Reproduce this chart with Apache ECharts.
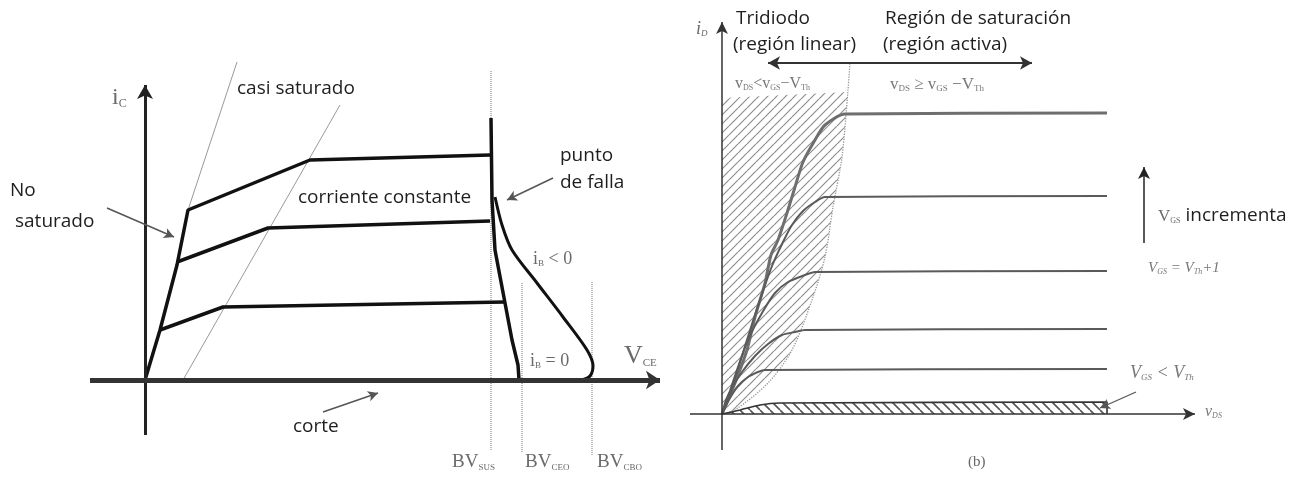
<!DOCTYPE html>
<html><head><meta charset="utf-8">
<script src="https://cdn.jsdelivr.net/npm/echarts/dist/echarts.min.js"></script>
<style>html,body{margin:0;background:#fff}#c{width:1306px;height:477px}</style>
</head><body><div id="c"></div>
<script>
// ---------- Panel (a): BJT i_C vs V_CE (panel units, origin at axes crossing) ----------
const bjtTop      = [[0,0],[15,50],[32,115],[43,170],[165,220],[345,225]];
const bjtMid      = [[32,118],[123,152],[345,159]];
const bjtBot      = [[15,50],[78,73],[360,78]];
const bjtIb0      = [[346,262],[347,180],[350,130],[367,40],[373,15],[374,0]];
const bjtIbNeg    = [[350,183],[357,155],[367,130],[392,97],[418,63],[442,30],[448,14],[445,4],[437,0]];
const bjtGuide1   = [[43,170],[92,318]];
const bjtGuide2   = [[38,0],[195,275]];
const bjtBVsus    = [[346,-70],[346,310]];
const bjtBVceo    = [[377,-72],[377,98]];
const bjtBVcbo    = [[447,-75],[447,98]];

// ---------- Panel (b): MOSFET i_D vs v_DS ----------
const mosCurve1   = [[0,0],[6,14],[13,31],[25,64],[33,97],[43,131],[49,159],[56,174],[65,201],[73,227],[81,252],[93,274],[103,289],[123,300],[385,301]];
const mosCurve2   = [[0,0],[10,26],[20,58],[30,90],[40,120],[50,148],[61,172],[70,189],[81,203],[93,212],[103,217],[385,218]];
const mosCurve3   = [[0,0],[8,23],[16,47],[26,74],[40,101],[53,121],[66,132],[83,139],[93,142],[385,143]];
const mosCurve4   = [[0,0],[4,14],[10,26],[20,42],[33,58],[46,70],[60,79],[73,82],[83,84],[385,85]];
const mosCurve5   = [[0,0],[8,16],[16,28],[26,37],[36,42],[43,44],[385,45]];
const mosCutoff   = [[0,0],[18,4],[38,9],[58,11],[385,12],[385,0]];
const mosPinch    = [[0,0],[13,4],[46,31],[70,64],[90,114],[103,157],[111,207],[120,257],[126,324],[128,352]];
const mosTriode   = [[0,0],[0,316],[126,322],[120,257],[111,207],[103,157],[90,114],[70,64],[46,31],[13,4]];

// arrows [from, to]
const arrowsA = {
  yAxis: [[0,-55],[0,295]],
  xAxis: [[-55,0],[515,0]],
  noSat: [[-38,172],[29,143]],
  falla: [[408,202],[362,180]],
  corte: [[178,-32],[233,-13]]
};
const arrowsB = {
  yAxis: [[0,-36],[0,392]],
  xAxis: [[-32,0],[473,0]],
  triode: [[126,351],[46,351]],
  sat: [[126,351],[310,351]],
  vgs: [[422,171],[422,247]],
  off: [[414,22],[378,6]]
};

function hatch(size, color, width, dir){
  const c = document.createElement('canvas'); c.width = c.height = size;
  const g = c.getContext('2d'); g.strokeStyle = color; g.lineWidth = width; g.beginPath();
  for (let k=-1;k<=1;k++){
    if (dir>0){ g.moveTo(k*size, size); g.lineTo(k*size+size, 0); }
    else { g.moveTo(k*size, 0); g.lineTo(k*size+size, size); }
  }
  g.stroke(); return c;
}
const chart = echarts.init(document.getElementById('c'), null, {renderer:'canvas'});

function ln(idx, data, color, width, opts){
  return Object.assign({type:'line', xAxisIndex:idx, yAxisIndex:idx, data:data, showSymbol:false, symbol:'none',
    silent:true, lineStyle:{color:color, width:width}, z:3}, opts||{});
}
function arrow(idx, seg, color, width, size, extra){
  return {type:'line', xAxisIndex:idx, yAxisIndex:idx, data:[], silent:true,
    markLine:{silent:true, animation:false, symbol:['none','arrow'], symbolSize:size, label:{show:false},
      lineStyle:Object.assign({color:color, width:width, type:'solid'}, extra||{}),
      emphasis:{disabled:true},
      data:[[{coord:seg[0]},{coord:seg[1]}]]}};
}
function poly(idx, pts, fill, z){
  return {type:'custom', xAxisIndex:idx, yAxisIndex:idx, data:[pts[0]], silent:true, z:z||1,
    renderItem:(p, api)=>({type:'polygon', shape:{points:pts.map(q=>api.coord(q))}, style:{fill:fill}})};
}

const SANS = '"Open Sans", sans-serif';
const SERIF = '"Liberation Serif", serif';
const ink = '#1e1e1e', gray = '#6a6a6a';
function T(left, top, text, size){ return {type:'text', left:left, top:top, silent:true,
  style:{text:text, font:(size||19)+'px '+SANS, fill:ink}}; }
function R(left, top, text, big, small, color, italic){
  return {type:'text', left:left, top:top, silent:true, style:{text:text, fill:color||gray,
    rich:{m:{fontSize:big, fontFamily:SERIF, fill:color||gray, fontStyle:italic?'italic':'normal', verticalAlign:'bottom'},
          s:{fontSize:small, fontFamily:SERIF, fill:color||gray, fontStyle:italic?'italic':'normal', verticalAlign:'bottom'},
          t:{fontSize:19, fontFamily:SANS, fill:ink, verticalAlign:'bottom'}}}};
}

const hatchL = {image:hatch(9,'#8e8e8e',1.2,1), repeat:'repeat'};
const hatchR = {image:hatch(10,'#555',1.6,-1), repeat:'repeat'};

const option = {
  animation:false,
  grid:[{left:0, top:0, width:660, height:477}, {left:660, top:0, width:646, height:477}],
  xAxis:[{type:'value', gridIndex:0, min:-145, max:515, show:false},
         {type:'value', gridIndex:1, min:-62, max:584, show:false}],
  yAxis:[{type:'value', gridIndex:0, min:-97, max:380, show:false},
         {type:'value', gridIndex:1, min:-63, max:414, show:false}],
  series:[
    // panel a
    ln(0, bjtGuide1, '#999', 1),
    ln(0, bjtGuide2, '#999', 1),
    ln(0, bjtBVsus, '#777', 1, {lineStyle:{color:'#777', width:1, type:'dotted'}}),
    ln(0, bjtBVceo, '#777', 1, {lineStyle:{color:'#777', width:1, type:'dotted'}}),
    ln(0, bjtBVcbo, '#777', 1, {lineStyle:{color:'#777', width:1, type:'dotted'}}),
    arrow(0, arrowsA.yAxis, '#222', 3, [12,14]),
    arrow(0, arrowsA.xAxis, '#333', 5, [14,14]),
    ln(0, bjtTop, '#111', 3.5),
    ln(0, bjtMid, '#111', 3.5),
    ln(0, bjtBot, '#111', 3.5),
    ln(0, bjtIb0, '#111', 3.5),
    ln(0, bjtIbNeg, '#111', 3, {smooth:0.3}),
    arrow(0, arrowsA.noSat, '#555', 1.5, [8,10]),
    arrow(0, arrowsA.falla, '#555', 1.5, [8,10]),
    arrow(0, arrowsA.corte, '#555', 1.5, [8,10]),
    // panel b
    poly(1, mosTriode, hatchL, 1),
    poly(1, mosCutoff, hatchR, 2),
    ln(1, mosPinch, '#999', 1.3, {smooth:0.3, lineStyle:{color:'#999', width:1.3, type:'dotted'}}),
    ln(1, mosCurve1, '#6e6e6e', 3, {smooth:0.25}),
    ln(1, mosCurve2, '#5a5a5a', 2, {smooth:0.25}),
    ln(1, mosCurve3, '#5a5a5a', 2, {smooth:0.25}),
    ln(1, mosCurve4, '#5a5a5a', 2, {smooth:0.25}),
    ln(1, mosCurve5, '#5a5a5a', 2, {smooth:0.25}),
    ln(1, mosCutoff, '#333', 1.6, {smooth:0.2}),
    arrow(1, arrowsB.yAxis, '#333', 1.5, [9,12]),
    arrow(1, arrowsB.xAxis, '#333', 1.5, [9,12]),
    arrow(1, arrowsB.triode, '#333', 2, [10,12]),
    arrow(1, arrowsB.sat, '#333', 2, [10,12]),
    arrow(1, arrowsB.vgs, '#222', 1.5, [9,12]),
    arrow(1, arrowsB.off, '#555', 1.3, [8,10], {curveness:-0.5})
  ],
  graphic:[
    // panel a labels
    R(112, 86, '{m|i}{s|C}', 24, 12),
    T(237, 79, 'casi saturado'),
    T(10, 181, 'No'),
    T(15, 212, 'saturado'),
    T(298, 188, 'corriente constante'),
    T(560, 146, 'punto'),
    T(560, 173, 'de falla'),
    R(533, 250, '{m|i}{s|B}{m| < 0}', 18, 9),
    R(530, 352, '{m|i}{s|B}{m| = 0}', 18, 9),
    R(624, 343, '{m|V}{s|CE}', 26, 11),
    T(293, 417, 'corte'),
    R(452, 453, '{m|BV}{s|SUS}', 19, 9),
    R(525, 453, '{m|BV}{s|CEO}', 19, 9),
    R(597, 453, '{m|BV}{s|CBO}', 19, 9),
    // panel b labels
    R(696, 20, '{m|i}{s|D}', 18, 9, null, true),
    T(736, 9, 'Tridiodo'),
    T(733, 35, '(región linear)'),
    T(885, 9, 'Región de saturación'),
    T(883, 35, '(región activa)'),
    R(735, 76, '{m|v}{s|DS}{m|<v}{s|GS}{m|−V}{s|Th}', 16, 8, '#777'),
    R(890, 76, '{m|v}{s|DS}{m| ≥ v}{s|GS}{m| −V}{s|Th}', 17, 9, '#777'),
    R(1158, 206, '{m|V}{s|GS}{t| incrementa}', 17, 8),
    R(1148, 261, '{m|V}{s|GS}{m| = V}{s|Th}{m|+1}', 15, 8, '#777', true),
    R(1130, 364, '{m|V}{s|GS}{m| < V}{s|Th}', 18, 9, '#777', true),
    R(1205, 404, '{m|v}{s|DS}', 16, 8, '#777', true),
    R(968, 455, '{m|(b)}', 15, 8, '#666')
  ]
};
chart.setOption(option);
</script></body></html>
